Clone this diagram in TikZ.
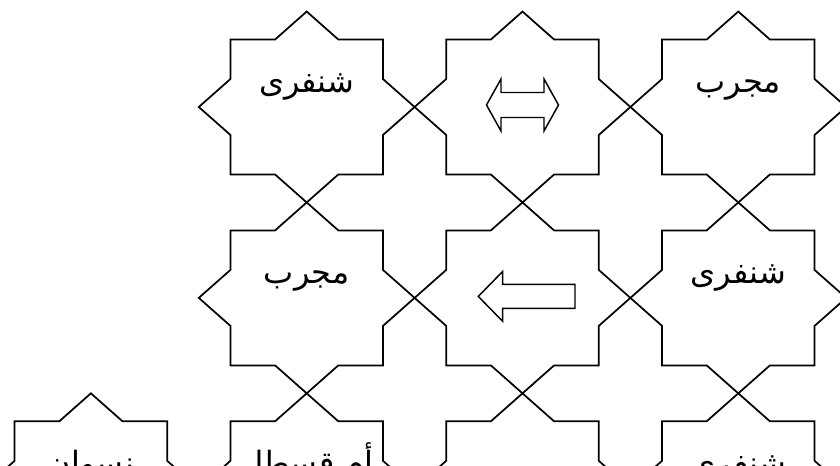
\documentclass[tikz,border=0pt]{standalone}
\usepackage{fontspec}
\newfontfamily\arabicfont[Script=Arabic]{DejaVu Sans}
\TeXXeTstate=1

% étoile à huit pointes (carré + losange) centrée en #1
\newcommand{\etoile}[1]{%
  \draw[shift={(#1)}, xscale=76.3, yscale=67.5]
    (-1,1) -- (-0.4142,1) -- (0,1.4142) -- (0.4142,1) -- (1,1)
    -- (1,0.4142) -- (1.4142,0) -- (1,-0.4142) -- (1,-1)
    -- (0.4142,-1) -- (0,-1.4142) -- (-0.4142,-1) -- (-1,-1)
    -- (-1,-0.4142) -- (-1.4142,0) -- (-1,0.4142) -- cycle;}

\begin{document}
\begin{tikzpicture}[x=0.75pt, y=-0.75pt, line width=1.3pt,
    texte/.style={font=\arabicfont\fontsize{24}{28}\selectfont, anchor=base, inner sep=0pt}]
        \useasboundingbox (0,0) rectangle (840,466);
        \clip (0,0) rectangle (840,466);

        % Centres des étoiles
        \coordinate (e11) at (306.7,107);
        \coordinate (e12) at (522.5,107);
        \coordinate (e13) at (738.3,107);
        \coordinate (e21) at (306.7,297.9);
        \coordinate (e22) at (522.5,297.9);
        \coordinate (e23) at (738.3,297.9);
        \coordinate (e30) at (90.9,488.8);
        \coordinate (e31) at (306.7,488.8);
        \coordinate (e32) at (522.5,488.8);
        \coordinate (e33) at (738.3,488.8);

        % Étoiles
        \foreach \e in {e11,e12,e13,e21,e22,e23,e30,e31,e32,e33}
            \etoile{\e};

        % Flèches
        \draw[shift={(e12)}, line width=1.1pt] (-36,-2) -- (-21.5,-28) -- (-21.5,-14.5) -- (21.5,-14.5) -- (21.5,-28)
            -- (36,-2) -- (21.5,24) -- (21.5,10.5) -- (-21.5,10.5) -- (-21.5,24) -- cycle;
        \draw[shift={(e22)}, line width=1.1pt] (-44.2,-1.5) -- (-19.8,-26.5) -- (-19.8,-13.5) -- (52.5,-13.5)
            -- (52.5,10.5) -- (-19.8,10.5) -- (-19.8,23.5) -- cycle;

        % Noms
        \node[texte] (t11) at ([yshift=11pt]e11) {\beginR شنفرى\endR};
        \node[texte] (t13) at ([yshift=11pt]e13) {\beginR مجرب\endR};
        \node[texte] (t21) at ([yshift=11pt]e21) {\beginR مجرب\endR};
        \node[texte] (t23) at ([yshift=11pt]e23) {\beginR شنفرى\endR};
        \node[texte] (t30) at ([yshift=11pt]e30) {\beginR نسوان\endR};
        \node[texte] (t31) at ([yshift=11pt]e31) {\beginR أم قسطل\endR};
        \node[texte] (t33) at ([yshift=11pt]e33) {\beginR شنفرى\endR};
    \end{tikzpicture}
\end{document}
